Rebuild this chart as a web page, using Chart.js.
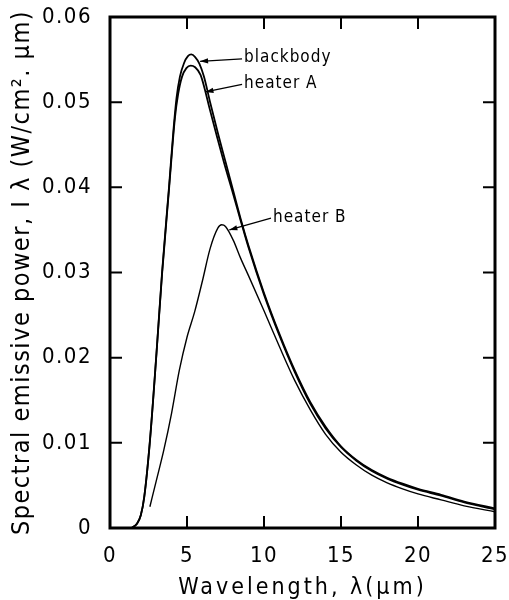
<!DOCTYPE html>
<html>
<head>
<meta charset="utf-8">
<script src="https://cdn.jsdelivr.net/npm/chart.js@4/dist/chart.umd.min.js"></script>
<style>
html,body{margin:0;padding:0;background:#fff;}
#c{display:block;}
</style>
</head>
<body>
<canvas id="c" width="509" height="600"></canvas>
<script>
// ---- data ----
const wlBlackbody = [1.4, 1.75, 2.0, 2.22, 2.58, 3.02, 3.38, 3.83, 4.11, 4.32, 4.54, 4.81, 5.06, 5.28, 5.53, 5.81, 6.1, 6.5, 7.0, 7.5, 8.0, 8.5, 9.0, 10.0, 11.0, 12.0, 13.0, 14.0, 15.0, 16.0, 17.0, 18.0, 19.0, 20.0, 21.5, 23.0, 25.0];
const blackbody   = [0, 0.0005, 0.0015, 0.0036, 0.0100, 0.0206, 0.0300, 0.0400, 0.0465, 0.0505, 0.0530, 0.0546, 0.0554, 0.0556, 0.0553, 0.0545, 0.0530, 0.0500, 0.0464, 0.0430, 0.0396, 0.0362, 0.0331, 0.0276, 0.0228, 0.0185, 0.0148, 0.0119, 0.0096, 0.0080, 0.0068, 0.0059, 0.0052, 0.0046, 0.0039, 0.0031, 0.0023];

const wlHeaterA = [1.4, 1.75, 2.0, 2.22, 2.58, 3.02, 3.38, 3.83, 4.22, 4.43, 4.68, 4.96, 5.24, 5.53, 5.88, 6.13, 6.46, 7.0, 7.42, 8.0, 8.5, 9.0, 10.0, 11.0, 12.0, 13.0, 14.0, 15.0, 16.0, 17.0, 18.0, 19.0, 20.0, 21.5, 23.0, 25.0];
const heaterA   = [0, 0.0005, 0.0015, 0.0036, 0.0099, 0.0205, 0.0298, 0.0397, 0.0482, 0.0510, 0.0530, 0.0540, 0.0543, 0.0541, 0.0532, 0.0517, 0.0493, 0.0456, 0.0428, 0.0392, 0.0360, 0.0329, 0.0274, 0.0226, 0.0183, 0.0146, 0.0117, 0.0095, 0.0079, 0.0067, 0.0058, 0.0051, 0.0045, 0.0038, 0.0030, 0.0022];

const wlHeaterB = [2.59, 3.0, 3.5, 4.0, 4.5, 5.0, 5.5, 6.0, 6.5, 7.0, 7.25, 7.5, 8.0, 8.5, 9.0, 10.0, 11.0, 12.0, 13.0, 14.0, 15.0, 16.0, 17.0, 18.0, 19.0, 20.0, 21.5, 23.0, 25.0];
const heaterB   = [0.0025, 0.0055, 0.0092, 0.0135, 0.0185, 0.0224, 0.0254, 0.0290, 0.0328, 0.0352, 0.0356, 0.0354, 0.0338, 0.0316, 0.0296, 0.0255, 0.0213, 0.0173, 0.0139, 0.0110, 0.0089, 0.0074, 0.0062, 0.0053, 0.0046, 0.0040, 0.0033, 0.0026, 0.0019];

const xTickValues = [0, 5, 10, 15, 20, 25];
const yTickValues = [0, 0.01, 0.02, 0.03, 0.04, 0.05, 0.06];

const noteTexts = ['blackbody', 'heater A', 'heater B'];
const noteX     = [8.64, 8.64, 10.52];
const noteY     = [0.0552, 0.0522, 0.0365];
const tipX      = [5.85, 6.2, 7.75];
const tipY      = [0.0548, 0.0512, 0.0350];

const xTitle = 'Wavelength, λ(μm)';
const yTitle = 'Spectral emissive power, I λ (W/cm². μm)';

// ---- build ----
const FONT = "'DejaVu Sans Condensed', 'DejaVu Sans', sans-serif";
function pts(xs, ys){ return xs.map((x,i)=>({x:x, y:ys[i]})); }

const framePlugin = {
  id: 'frame',
  beforeDraw(chart){ chart.ctx.letterSpacing = '1.5px'; },
  afterDraw(chart){
    const ctx = chart.ctx, a = chart.chartArea;
    const xs = chart.scales.x, ys = chart.scales.y;
    ctx.save();
    ctx.letterSpacing = '0px';
    ctx.strokeStyle = '#000';
    ctx.lineWidth = 3;
    ctx.strokeRect(a.left, a.top, a.right - a.left, a.bottom - a.top);
    ctx.lineWidth = 2;
    const L = 12;
    ctx.beginPath();
    xTickValues.slice(1, -1).forEach(v => {
      const px = xs.getPixelForValue(v);
      ctx.moveTo(px, a.bottom); ctx.lineTo(px, a.bottom - L);
      ctx.moveTo(px, a.top); ctx.lineTo(px, a.top + L);
    });
    yTickValues.slice(1, -1).forEach(v => {
      const py = ys.getPixelForValue(v);
      ctx.moveTo(a.left, py); ctx.lineTo(a.left + L, py);
      ctx.moveTo(a.right, py); ctx.lineTo(a.right - L, py);
    });
    ctx.stroke();

    ctx.fillStyle = '#000';
    ctx.font = "17px " + FONT;
    ctx.letterSpacing = '1px';
    ctx.textAlign = 'left';
    ctx.textBaseline = 'middle';
    ctx.lineWidth = 1.2;
    noteTexts.forEach((t, i) => {
      const lx = xs.getPixelForValue(noteX[i]);
      const ly = ys.getPixelForValue(noteY[i]);
      const tx = xs.getPixelForValue(tipX[i]);
      const ty = ys.getPixelForValue(tipY[i]);
      ctx.fillText(t, lx + 1, ly);
      const sx = lx - 1, sy = ly + 1;
      ctx.beginPath(); ctx.moveTo(sx, sy); ctx.lineTo(tx, ty); ctx.stroke();
      const ang = Math.atan2(ty - sy, tx - sx);
      const hl = 8, hw = 2.6;
      ctx.beginPath();
      ctx.moveTo(tx, ty);
      ctx.lineTo(tx - hl*Math.cos(ang) + hw*Math.sin(ang), ty - hl*Math.sin(ang) - hw*Math.cos(ang));
      ctx.lineTo(tx - hl*Math.cos(ang) - hw*Math.sin(ang), ty - hl*Math.sin(ang) + hw*Math.cos(ang));
      ctx.closePath(); ctx.fill();
    });

    ctx.textAlign = 'center';
    ctx.textBaseline = 'alphabetic';
    ctx.font = "23px " + FONT;
    ctx.letterSpacing = '3px';
    ctx.fillText(xTitle, (a.left + a.right) / 2, 594);
    ctx.font = "25px " + FONT;
    ctx.letterSpacing = '1.5px';
    ctx.translate(29, (a.top + a.bottom) / 2);
    ctx.rotate(-Math.PI / 2);
    ctx.fillText(yTitle, 0, 0);
    ctx.restore();
    ctx.letterSpacing = '0px';
  }
};

new Chart(document.getElementById('c'), {
  type: 'line',
  data: {
    datasets: [
      { label: 'blackbody', data: pts(wlBlackbody, blackbody), borderColor: '#000', borderWidth: 1.8 },
      { label: 'heater A',  data: pts(wlHeaterA, heaterA),     borderColor: '#000', borderWidth: 1.8 },
      { label: 'heater B',  data: pts(wlHeaterB, heaterB),     borderColor: '#000', borderWidth: 1.4 }
    ]
  },
  options: {
    responsive: false,
    animation: false,
    devicePixelRatio: 1,
    elements: { point: { radius: 0 }, line: { cubicInterpolationMode: 'monotone', fill: false } },
    layout: { padding: { top: 17, right: 14, left: 0, bottom: 0 } },
    plugins: { legend: { display: false }, tooltip: { enabled: false } },
    scales: {
      x: {
        type: 'linear', min: 0, max: 25,
        afterFit: s => { s.height = 72; s.paddingLeft = 0; s.paddingRight = 0; },
        afterBuildTicks: s => { s.ticks = xTickValues.map(v => ({ value: v })); },
        grid: { display: false, drawTicks: false },
        border: { display: false },
        ticks: { color: '#000', padding: 15, font: { family: FONT, size: 22 }, maxRotation: 0, autoSkip: false }
      },
      y: {
        type: 'linear', min: 0, max: 0.06,
        afterFit: s => { s.width = 110; s.paddingTop = 0; s.paddingBottom = 0; },
        afterBuildTicks: s => { s.ticks = yTickValues.map(v => ({ value: v })); },
        grid: { display: false, drawTicks: false },
        border: { display: false },
        ticks: { color: '#000', padding: 18, font: { family: FONT, size: 22 },
          callback: v => v === 0 ? '0' : v.toFixed(2) }
      }
    }
  },
  plugins: [framePlugin]
});
</script>
</body>
</html>
